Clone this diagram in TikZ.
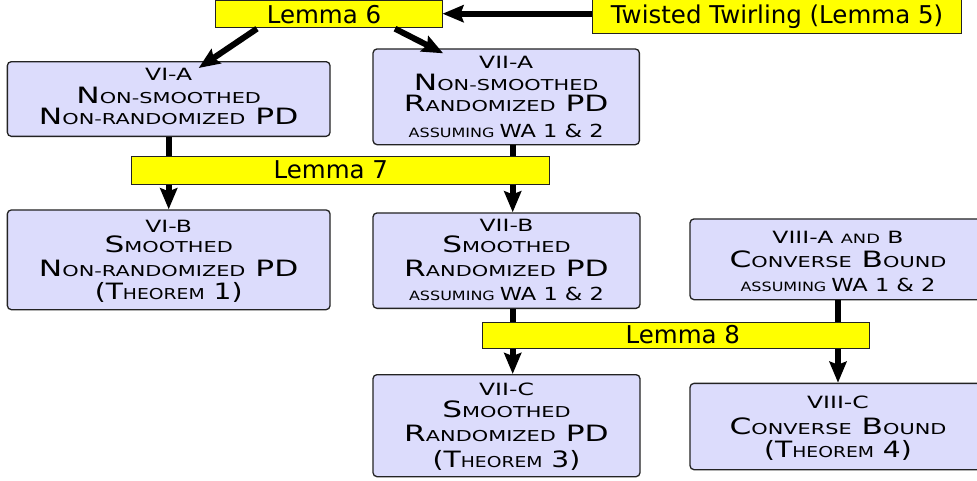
\documentclass[tikz,border=0pt]{standalone}
\usepackage{fontspec}
\setmainfont{DejaVu Sans}
\newfontfamily\bxfont[FakeStretch=1.39]{DejaVu Sans}
\newfontfamily\bxnarrow[FakeStretch=1.25]{DejaVu Sans}
\usetikzlibrary{arrows.meta,calc}
\definecolor{boxfill}{RGB}{220,220,252}
\definecolor{boxline}{RGB}{35,35,35}
\definecolor{lemfill}{RGB}{255,255,0}
\newcommand\hdz{\fontsize{16.9pt}{22pt}\selectfont}
\newcommand\cpz{\fontsize{22.5pt}{22pt}\selectfont}
\newcommand\scz{\fontsize{15pt}{22pt}\selectfont}
\newcommand\cpy{\fontsize{18pt}{22pt}\selectfont}
\newcommand\scy{\fontsize{12.8pt}{22pt}\selectfont}
\newcommand\assum{{\bxnarrow{\scy ASSUMING }{\cpy WA 1 \& 2}}}
\newcommand\thm[1]{{\bxnarrow (T{\scz HEOREM} #1)}}
\begin{document}
\begin{tikzpicture}[x=1pt,y=-1pt,
  secbox/.style={draw=boxline, fill=boxfill, line width=1.3pt, rounded corners=4pt, anchor=north, inner sep=0pt, align=center, font=\bxfont\cpz},
  lembox/.style={draw=boxline, fill=lemfill, line width=1pt, anchor=north, inner sep=0pt, font=\fontsize{24.5pt}{28pt}\selectfont},
  conn/.style={line width=6pt, black},
  arr/.style={conn, -{Stealth[length=21pt,width=17pt,inset=3pt]}}]
\useasboundingbox (0,0) rectangle (977,480);
\node[lembox, minimum width=227pt, text height=23pt, text depth=4pt] (l6) at (328.5,-0.3) {Lemma 6\hspace*{9pt}};
\node[lembox, minimum width=369.4pt, text height=25.2pt, text depth=10pt] (tw) at (777,-2.5) {Twisted Twirling (Lemma 5)};
\node[lembox, minimum width=418.3pt, text height=22.6pt, text depth=5.7pt] (l7) at (340.8,155.7) {Lemma 7\hspace*{20pt}};
\node[lembox, minimum width=387.6pt, text height=21.6pt, text depth=5pt] (l8) at (675.8,321.7) {\hspace*{14pt}Lemma 8};
\node[secbox, minimum width=322.7pt, text height=63.3pt, text depth=11.4pt] (via) at (168.7,61)
  {{\hdz VI-A}\\[1.3pt] N{\scz ON-SMOOTHED}\\[-1pt] N{\scz ON-RANDOMIZED} PD};
\node[secbox, minimum width=266.3pt, text height=88.4pt, text depth=7.3pt] (viia) at (506.2,48.3)
  {{\hdz VII-A}\\[-0.3pt] N{\scz ON-SMOOTHED}\\[-1.3pt] R{\scz ANDOMIZED} PD\\[4pt] \assum};
\node[secbox, minimum width=322.7pt, text height=89.7pt, text depth=10pt] (vib) at (168.7,209.3)
  {{\hdz VI-B}\\[-2pt] S{\scz MOOTHED}\\[2.3pt] N{\scz ON-RANDOMIZED} PD\\[1pt] \thm{1}};
\node[secbox, minimum width=267pt, text height=87.7pt, text depth=7.7pt] (viib) at (506.5,212.3)
  {{\hdz VII-B}\\[-1pt] S{\scz MOOTHED}\\[2.3pt] R{\scz ANDOMIZED} PD\\[2pt] \assum};
\node[secbox, minimum width=296pt, text height=72.4pt, text depth=8.3pt] (viiiab) at (838,218.3)
  {{\hdz VIII-A {\scy AND} B}\\[1.4pt] C{\scz ONVERSE} B{\scz OUND}\\[2pt] \assum};
\node[secbox, minimum width=267pt, text height=92.7pt, text depth=9.3pt] (viic) at (506.5,374)
  {{\hdz VII-C}\\[-0.3pt] S{\scz MOOTHED}\\[2pt] R{\scz ANDOMIZED} PD\\[4pt] \thm{3}};
\node[secbox, minimum width=296pt, text height=74.3pt, text depth=12pt] (viiic) at (838,382.7)
  {{\hdz VIII-C}\\[4pt] C{\scz ONVERSE} B{\scz OUND}\\[1pt] \thm{4}};
\coordinate (colB) at (512.7,0);
\draw[arr] (l6.east -| tw.west) -- (l6.east);
\draw[arr] ($(l6.south)+(-71.5,1)$) -- ($(via.north)+(30,7)$);
\draw[arr] ($(l6.south)+(66.5,1)$) -- ($(viia.north)+(-63,5)$);
\draw[conn] (via.south) -- (via.south |- l7.north);
\draw[arr] (via.south |- l7.south) -- (vib.north);
\draw[conn] (viia.south -| colB) -- (l7.north -| colB);
\draw[arr] (l7.south -| colB) -- (viib.north -| colB);
\draw[conn] (viib.south -| colB) -- (l8.north -| colB);
\draw[arr] (l8.south -| colB) -- (viic.north -| colB);
\draw[conn] (viiiab.south) -- (viiiab.south |- l8.north);
\draw[arr] (viiiab.south |- l8.south) -- (viiic.north);
\end{tikzpicture}
\end{document}
